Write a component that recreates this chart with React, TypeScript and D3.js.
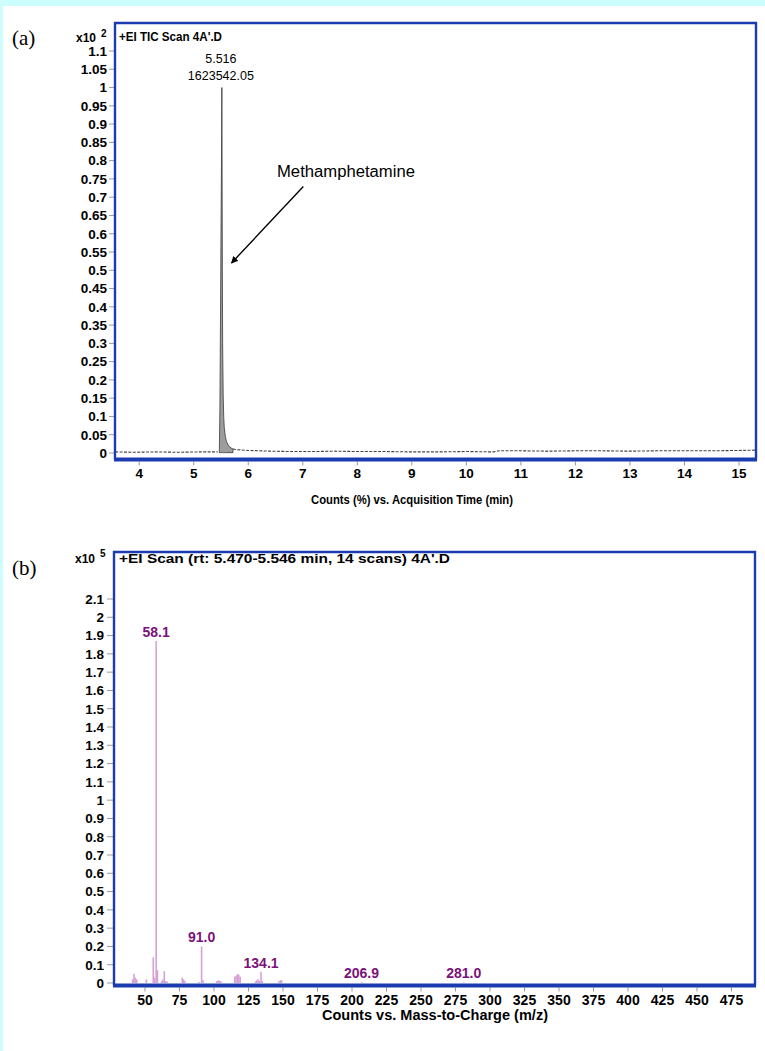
import React, { useEffect } from 'react';
import * as d3 from 'd3';

// ---- (a) TIC chromatogram, counts (%) x10^2 vs time (min)
const ticTime = [3.56, 3.9, 4.3, 4.7, 5.1, 5.44, 5.47, 5.48, 5.49, 5.5, 5.51, 5.516, 5.52, 5.525, 5.53, 5.54, 5.55, 5.56,
	5.58, 5.6, 5.63, 5.67, 5.72, 5.8, 6.0, 6.4, 6.8, 7.2, 7.6, 8.0, 8.5, 9.0, 9.5, 10.0, 10.5, 10.6, 11.0, 11.5,
	12.0, 12.5, 13.0, 13.5, 14.0, 14.5, 15.0, 15.33];
const ticCounts = [0.003, 0.002, 0.003, 0.002, 0.003, 0.003, 0.01, 0.12, 0.35, 0.6, 0.82, 1.0, 0.78, 0.5, 0.3, 0.16, 0.1, 0.07,
	0.045, 0.032, 0.022, 0.015, 0.011, 0.009, 0.007, 0.005, 0.004, 0.004, 0.005, 0.004, 0.004, 0.003, 0.003, 0.004, 0.003, 0.006,
	0.006, 0.005, 0.006, 0.006, 0.005, 0.006, 0.006, 0.006, 0.007, 0.008];
const ticTimeTicks = [4, 5, 6, 7, 8, 9, 10, 11, 12, 13, 14, 15];
const ticCountTicks = [0, 0.05, 0.1, 0.15, 0.2, 0.25, 0.3, 0.35, 0.4, 0.45, 0.5, 0.55, 0.6, 0.65, 0.7, 0.75, 0.8, 0.85,
	0.9, 0.95, 1, 1.05, 1.1];
const ticPeakTime = 5.516;
const ticPeakArea = '1623542.05';
const ticPeakRange = [5.45, 5.72];
const compoundName = 'Methamphetamine';
// annotation anchors in data units [time, counts]
const labelAt = [6.527, 0.755];
const arrowFrom = [7.01, 0.729];
const arrowTo = [5.693, 0.52];

// ---- (b) mass spectrum, counts x10^5 vs m/z
const msMz = [41, 42, 43, 44, 51, 56, 57, 58.1, 59, 62, 63, 64, 65, 66, 77, 78, 79, 89, 91.0, 92, 102, 103, 104, 105,
	115, 116, 117, 118, 119, 130, 131, 132, 133, 134.1, 135, 147, 148, 149, 206.9, 281.0];
const msCounts = [0.02, 0.05, 0.03, 0.02, 0.02, 0.14, 0.03, 1.87, 0.07, 0.01, 0.02, 0.065, 0.01, 0.008, 0.03, 0.02, 0.01, 0.006,
	0.2, 0.015, 0.01, 0.015, 0.012, 0.01, 0.035, 0.04, 0.05, 0.045, 0.035, 0.008, 0.015, 0.02, 0.012, 0.062, 0.01, 0.008,
	0.015, 0.015, 0.004, 0.003];
const msLabelMz = [58.1, 91.0, 134.1, 206.9, 281.0];
const msLabelCounts = [1.87, 0.2, 0.062, 0.004, 0.003];
const msMzTicks = [50, 75, 100, 125, 150, 175, 200, 225, 250, 275, 300, 325, 350, 375, 400, 425, 450, 475];
const msCountTicks = [0, 0.1, 0.2, 0.3, 0.4, 0.5, 0.6, 0.7, 0.8, 0.9, 1, 1.1, 1.2, 1.3, 1.4, 1.5, 1.6, 1.7, 1.8, 1.9, 2, 2.1];

const FONT = "'Liberation Sans', Arial, Helvetica, sans-serif";
const SERIF = "'Liberation Serif', 'Times New Roman', serif";
const FRAME = '#1b3bb0';
const TICK = '#9a9a9a';

function Frame({ left, right, top, bottom }) {
	return (
		<g>
			<path d={`M${left},${bottom} V${top} H${right} V${bottom}`} fill="none" stroke={FRAME} strokeWidth={2.4}/>
			<line x1={left - 1} x2={right + 1} y1={bottom} y2={bottom} stroke={FRAME} strokeWidth={4}/>
		</g>
	);
}

function Chromatogram() {
	const box = { left: 115, right: 756, top: 23, bottom: 459.5 };
	const x = d3.scaleLinear().domain([4, 15]).range([139.2, 739]);
	const y = d3.scaleLinear().domain([0, 1.1]).range([453, 51]);

	const pts = ticTime.map((t, i) => [t, ticCounts[i]]);
	const lineFn = d3.line().x(d => x(d[0])).y(d => y(d[1]));
	const peakPts = pts.filter(d => d[0] >= ticPeakRange[0] && d[0] <= ticPeakRange[1]);
	const areaFn = d3.area().x(d => x(d[0])).y0(y(0.001)).y1(d => y(d[1]));
	const before = pts.filter(d => d[0] <= ticPeakRange[0]);
	const after = pts.filter(d => d[0] >= ticPeakRange[1]);

	return (
		<g>
			<text x={12} y={45} fontFamily={SERIF} fontSize={21}>(a)</text>
			<text x={76} y={42} fontFamily={FONT} fontSize={12} fontWeight="bold">x10</text>
			<text x={101} y={37} fontFamily={FONT} fontSize={10} fontWeight="bold">2</text>

			{ticCountTicks.map(v => (
				<g key={v}>
					<line x1={box.left - 6} x2={box.left} y1={y(v)} y2={y(v)} stroke={TICK}/>
					<text x={107} y={y(v)} dy="0.36em" textAnchor="end" fontFamily={FONT} fontSize={13.5}
					      fontWeight="bold">{String(v)}</text>
				</g>
			))}
			{ticTimeTicks.map(v => (
				<g key={v}>
					<line x1={x(v)} x2={x(v)} y1={box.bottom + 2} y2={box.bottom + 6} stroke={TICK}/>
					<text x={x(v)} y={478} textAnchor="middle" fontFamily={FONT} fontSize={13.5}
					      fontWeight="bold">{v}</text>
				</g>
			))}

			<path d={areaFn(peakPts)} fill="#9d9d9d" stroke="#3a3a3a" strokeWidth={0.8}/>
			<path d={lineFn(before)} fill="none" stroke="#444" strokeWidth={1.1} strokeDasharray="3 1.4"/>
			<path d={lineFn(after)} fill="none" stroke="#444" strokeWidth={1.1} strokeDasharray="3 1.4"/>

			<Frame {...box}/>

			<text x={119} y={41} fontFamily={FONT} fontSize={12} fontWeight="bold" textLength={103}
			      lengthAdjust="spacingAndGlyphs">+EI TIC Scan 4A'.D</text>
			<text x={x(ticPeakTime) - 1} y={63} textAnchor="middle" fontFamily={FONT} fontSize={12.5}>{ticPeakTime}</text>
			<text x={x(ticPeakTime) - 1} y={80} textAnchor="middle" fontFamily={FONT} fontSize={12.5}>{ticPeakArea}</text>

			<text x={x(labelAt[0])} y={y(labelAt[1])} fontFamily={FONT} fontSize={16} textLength={138}
			      lengthAdjust="spacingAndGlyphs">{compoundName}</text>
			<line x1={x(arrowFrom[0])} y1={y(arrowFrom[1])} x2={x(arrowTo[0])} y2={y(arrowTo[1])}
			      stroke="#000" strokeWidth={1.4} markerEnd="url(#arrowHead)"/>

			<text x={412} y={504} textAnchor="middle" fontFamily={FONT} fontSize={13} fontWeight="bold" textLength={202}
			      lengthAdjust="spacingAndGlyphs">Counts (%) vs. Acquisition Time (min)</text>
		</g>
	);
}

function Spectrum() {
	const box = { left: 114, right: 755, top: 552, bottom: 985.5 };
	const x = d3.scaleLinear().domain([50, 475]).range([145, 731.5]);
	const y = d3.scaleLinear().domain([0, 2.1]).range([983, 599]);

	return (
		<g>
			<text x={12} y={575} fontFamily={SERIF} fontSize={21}>(b)</text>
			<text x={75} y={563} fontFamily={FONT} fontSize={12} fontWeight="bold">x10</text>
			<text x={100} y={557} fontFamily={FONT} fontSize={10} fontWeight="bold">5</text>

			{msCountTicks.map(v => (
				<g key={v}>
					<line x1={box.left - 7} x2={box.left} y1={y(v)} y2={y(v)} stroke={TICK}/>
					<text x={104} y={y(v)} dy="0.36em" textAnchor="end" fontFamily={FONT} fontSize={13.5}
					      fontWeight="bold">{String(v)}</text>
				</g>
			))}
			{msMzTicks.map(v => (
				<g key={v}>
					<line x1={x(v)} x2={x(v)} y1={box.bottom + 2} y2={box.bottom + 6} stroke={TICK}/>
					<text x={x(v)} y={1005} textAnchor="middle" fontFamily={FONT} fontSize={14}
					      fontWeight="bold">{v}</text>
				</g>
			))}

			{msMz.map((m, i) => (
				<line key={m} x1={x(m)} x2={x(m)} y1={y(0)} y2={y(msCounts[i])} stroke="#d6a2d6" strokeWidth={1.6}/>
			))}
			{msLabelMz.map((m, i) => (
				<text key={m} x={x(m)} y={y(msLabelCounts[i]) - 4} textAnchor="middle" fontFamily={FONT} fontSize={14}
				      fontWeight="bold" fill="#7a127a">{m.toFixed(1)}</text>
			))}

			<Frame {...box}/>

			<text x={119} y={563} fontFamily={FONT} fontSize={12} fontWeight="bold" textLength={331}
			      lengthAdjust="spacingAndGlyphs">+EI Scan (rt: 5.470-5.546 min, 14 scans) 4A'.D</text>
			<text x={435} y={1020} textAnchor="middle" fontFamily={FONT} fontSize={14} fontWeight="bold" textLength={226}
			      lengthAdjust="spacingAndGlyphs">Counts vs. Mass-to-Charge (m/z)</text>
		</g>
	);
}

export default function App() {
	useEffect(() => {
		document.body.style.margin = '0';
	}, []);

	return (
		<svg width={765} height={1051} style={{ display: 'block' }}>
			<defs>
				<marker id="arrowHead" viewBox="0 0 10 10" refX={9} refY={5} markerWidth={7} markerHeight={7}
				        markerUnits="userSpaceOnUse" orient="auto">
					<path d="M0,0 L10,5 L0,10 z" fill="#000"/>
				</marker>
			</defs>
			<rect width={765} height={1051} fill="#ccfefe"/>
			<rect x={3} y={6} width={762} height={1045} fill="#fff"/>
			<Chromatogram/>
			<Spectrum/>
		</svg>
	);
}
